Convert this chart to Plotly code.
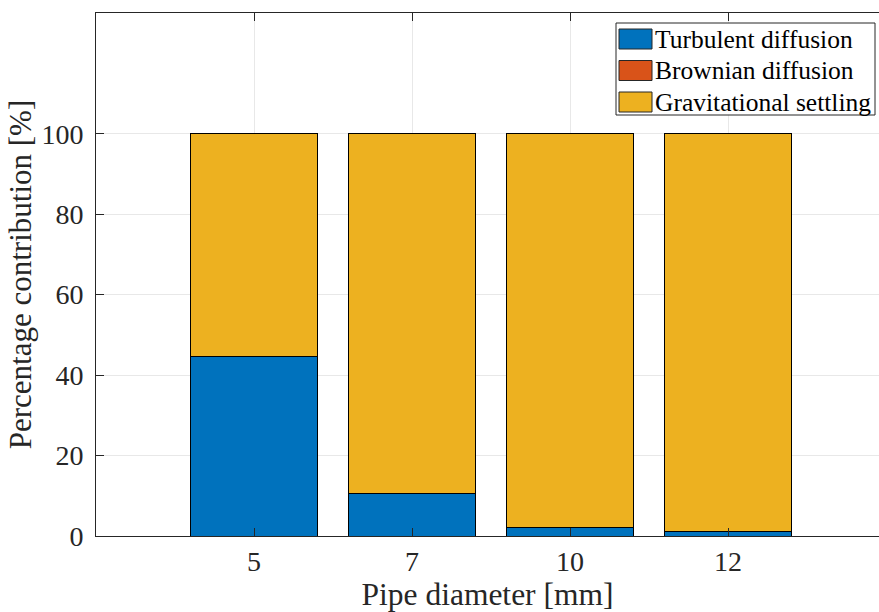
import plotly.graph_objects as go

# Pipe diameters and the share of each deposition mechanism (%)
diameters = ["5", "7", "10", "12"]
turbulent = [44.6, 10.5, 2.2, 1.0]
brownian = [0.02, 0.02, 0.02, 0.02]
gravitational = [round(100 - t - b, 2) for t, b in zip(turbulent, brownian)]

series_names = ["Turbulent diffusion", "Brownian diffusion", "Gravitational settling"]
series_colors = ["#0072BD", "#D95319", "#EDB120"]
series_values = [turbulent, brownian, gravitational]

FONT = "'Liberation Serif', 'Times New Roman', 'DejaVu Serif', serif"
INK = "#262626"
W, H = 879, 612
L, T, B = 96, 13, 76
plot_w = W - L
plot_h = H - T - B
unit_px = 158.0  # horizontal pixels per category slot

positions = list(range(1, len(diameters) + 1))

fig = go.Figure()
for name, color, vals in zip(series_names, series_colors, series_values):
    fig.add_trace(go.Bar(
        x=positions, y=vals, name=name, width=0.8,
        marker=dict(color=color, line=dict(color="#000000", width=1)),
        showlegend=False,
    ))


def px_x(p):
    return (p - L) / plot_w


def px_y(p):
    return (H - B - p) / plot_h


# Legend box with wide swatches
shapes = [dict(type="rect", xref="paper", yref="paper",
               x0=px_x(616), x1=px_x(875), y0=px_y(115), y1=px_y(23),
               line=dict(color=INK, width=1), fillcolor="white", layer="above")]
annotations = []
row_centers = [39, 70.5, 102]
for name, color, cy in zip(series_names, series_colors, row_centers):
    shapes.append(dict(type="rect", xref="paper", yref="paper",
                       x0=px_x(619), x1=px_x(652), y0=px_y(cy + 10), y1=px_y(cy - 10),
                       line=dict(color=INK, width=1), fillcolor=color, layer="above"))
    annotations.append(dict(xref="paper", yref="paper", x=px_x(653), y=px_y(cy),
                            xanchor="left", yanchor="middle", showarrow=False,
                            text=name, font=dict(family=FONT, size=25.5, color="#000000")))

fig.update_layout(
    barmode="stack",
    width=W, height=H,
    margin=dict(l=L, r=0, t=T, b=B, pad=0),
    paper_bgcolor="white", plot_bgcolor="white",
    font=dict(family=FONT, color=INK),
    shapes=shapes, annotations=annotations,
    xaxis=dict(
        range=[0, plot_w / unit_px],
        tickmode="array", tickvals=positions, ticktext=diameters,
        ticks="inside", ticklen=8, tickcolor=INK, tickwidth=1,
        showline=True, linecolor=INK, linewidth=1, mirror="ticks",
        showgrid=True, gridcolor="#e8e8e8", gridwidth=1, zeroline=False,
        tickfont=dict(family=FONT, size=28, color=INK),
        title=dict(text="Pipe diameter [mm]", font=dict(family=FONT, size=31.5, color=INK), standoff=9),
    ),
    yaxis=dict(
        range=[0, 130],
        tickmode="array", tickvals=[0, 20, 40, 60, 80, 100],
        ticks="inside", ticklen=8, tickcolor=INK, tickwidth=1,
        showline=True, linecolor=INK, linewidth=1, mirror=False,
        showgrid=True, gridcolor="#e8e8e8", gridwidth=1, zeroline=False,
        tickfont=dict(family=FONT, size=28, color=INK),
        ticklabelstandoff=6,
        title=dict(text="Percentage contribution [%]", font=dict(family=FONT, size=31, color=INK), standoff=0),
    ),
)

fig.write_html("out.html")
